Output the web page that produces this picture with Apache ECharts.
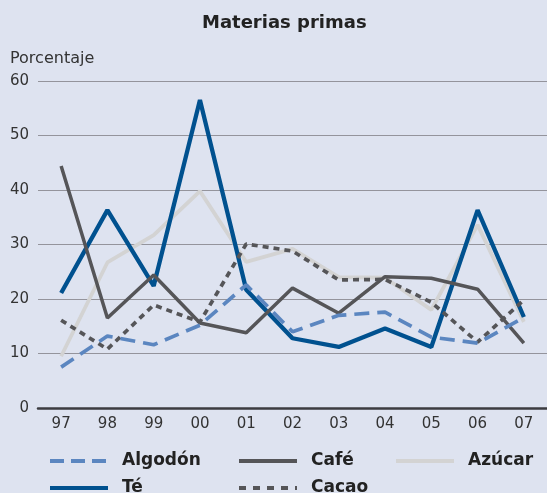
<!DOCTYPE html>
<html>
<head>
<meta charset="utf-8">
<title>Materias primas</title>
<script src="https://cdn.jsdelivr.net/npm/echarts@6/dist/echarts.min.js"></script>
<style>
  html, body { margin: 0; padding: 0; background: #dee3f0; }
  #chart { width: 547px; height: 493px; }
</style>
</head>
<body>
<div id="chart"></div>
<script>
const years = ['97', '98', '99', '00', '01', '02', '03', '04', '05', '06', '07'];

const algodon = [7.5, 13.2, 11.6, 15.2, 22.6, 14.0, 17.0, 17.6, 13.0, 11.9, 16.6];
const cafe    = [44.4, 16.5, 24.4, 15.6, 13.8, 22.0, 17.4, 24.1, 23.8, 21.8, 11.9];
const azucar  = [9.5, 26.7, 31.7, 39.8, 26.8, 29.2, 24.0, 23.9, 18.0, 33.6, 15.8];
const te      = [21.1, 36.3, 22.4, 56.5, 21.7, 12.8, 11.2, 14.6, 11.2, 36.3, 16.7];
const cacao   = [16.1, 10.8, 18.9, 15.8, 30.1, 28.8, 23.5, 23.6, 19.4, 12.1, 19.8];

const font = 'DejaVu Sans';
const chart = echarts.init(document.getElementById('chart'));

// one legend per entry so each sits in its own column
const legendAt = (name, left, top, dash) => ({
  left, top,
  padding: 0,
  data: [{ name, lineStyle: dash ? { type: dash } : undefined }],
  itemWidth: 58,
  itemHeight: 14,
  lineStyle: { width: 4 },
  itemStyle: { opacity: 0 },
  textStyle: {
    fontFamily: font, fontWeight: 'bold', fontSize: 17, color: '#222',
    lineHeight: 20, padding: [0, 0, 0, 9]
  },
  selectedMode: false
});

const line = (name, data, color, width, dash, z) => ({
  name, type: 'line', data, z,
  symbol: 'none',
  lineStyle: { color, width, type: dash || 'solid' },
  itemStyle: { color }
});

chart.setOption({
  backgroundColor: '#dee3f0',
  animation: false,
  title: [
    { text: 'Materias primas', left: 202, top: 14, padding: 0,
      textStyle: { fontFamily: font, fontWeight: 'bold', fontSize: 18, color: '#222' } },
    { text: 'Porcentaje', left: 10, top: 51, padding: 0,
      textStyle: { fontFamily: font, fontWeight: 'normal', fontSize: 16, color: '#333' } }
  ],
  legend: [
    legendAt('Algodón', 48, 451, [14, 7]),
    legendAt('Café', 237, 451),
    legendAt('Azúcar', 394, 451),
    legendAt('Té', 48, 478),
    legendAt('Cacao', 237, 478, [7, 7])
  ],
  grid: { left: 38, right: 0, top: 81, bottom: 85 },
  xAxis: {
    type: 'category',
    data: years,
    boundaryGap: true,
    axisLine: { lineStyle: { color: '#3c3c40', width: 2.5 } },
    axisTick: { inside: true, alignWithLabel: true, length: 8, lineStyle: { color: '#2a2a2e', width: 2.5 } },
    axisLabel: { fontFamily: font, fontSize: 15, color: '#333', margin: 9 }
  },
  yAxis: {
    type: 'value',
    min: 0, max: 60, interval: 10,
    axisLine: { show: false },
    axisTick: { show: false },
    axisLabel: { fontFamily: font, fontSize: 15, color: '#333', margin: 9 },
    splitLine: { lineStyle: { color: '#94949c', width: 1.2 } }
  },
  series: [
    line('Azúcar', azucar, '#d3d3d3', 3.8, null, 2),
    line('Té', te, '#00518f', 4.3, null, 3),
    line('Café', cafe, '#555558', 3.5, null, 4),
    line('Cacao', cacao, '#555558', 3.7, [6, 5], 5),
    line('Algodón', algodon, '#5b86c0', 3.7, [15, 8], 6)
  ]
});

window.addEventListener('resize', () => chart.resize());
</script>
</body>
</html>
